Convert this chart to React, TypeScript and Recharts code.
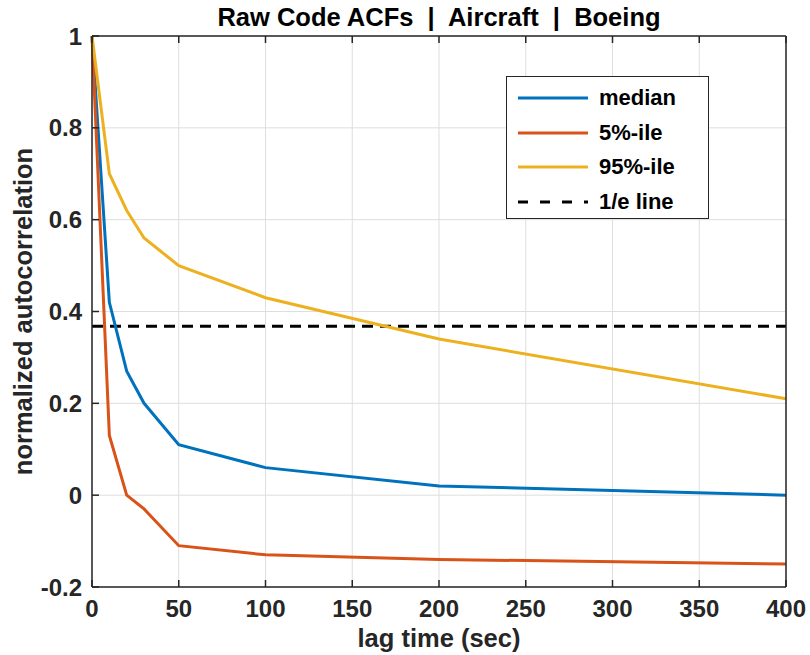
import React from 'react';
import {
  LineChart,
  Line,
  XAxis,
  YAxis,
  CartesianGrid,
  ReferenceLine,
} from 'recharts';

// lag times (sec) at which the ACFs were sampled
const lags = [0, 10, 20, 30, 50, 100, 200, 400];
const median = [1, 0.42, 0.27, 0.2, 0.11, 0.06, 0.02, 0.0];
const pct5 = [1, 0.13, 0.0, -0.03, -0.11, -0.13, -0.14, -0.15];
const pct95 = [1, 0.7, 0.62, 0.56, 0.5, 0.43, 0.34, 0.21];

const xTicks = [0, 50, 100, 150, 200, 250, 300, 350, 400];
const yTicks = [-0.2, 0, 0.2, 0.4, 0.6, 0.8, 1];
const E_FOLD = 1 / Math.E;

const FONT = '"Liberation Sans", Arial, Helvetica, sans-serif';
const AXIS_COLOR = '#262626';
const LABEL_SIZE = 25.5;

const series = [
  { key: 'median', name: 'median', color: '#0072BD' },
  { key: 'pct5', name: '5%-ile', color: '#D95319' },
  { key: 'pct95', name: '95%-ile', color: '#EDB120' },
];

const data = lags.map((lag, i) => ({
  lag,
  median: median[i],
  pct5: pct5[i],
  pct95: pct95[i],
}));

const fmtY = (v: number) => String(Number(v.toFixed(1)));

const tickStyle = { fontSize: 24, fontWeight: 700, fill: AXIS_COLOR, fontFamily: FONT };
const labelStyle = { fontSize: LABEL_SIZE, fontWeight: 700, fill: AXIS_COLOR, fontFamily: FONT };

const legendItems = [
  ...series.map((s) => ({ name: s.name, color: s.color, dash: undefined as string | undefined })),
  { name: '1/e line', color: '#000', dash: '10 12' },
];

// boxed legend in the upper right of the axes
const LegendBox = () => (
  <div
    style={{
      position: 'absolute',
      left: 506,
      top: 76,
      width: 201,
      height: 137,
      border: `1.5px solid ${AXIS_COLOR}`,
      background: '#fff',
      fontFamily: FONT,
      fontWeight: 700,
      fontSize: 22,
      color: '#000',
      paddingTop: 4,
    }}
  >
    {legendItems.map((it) => (
      <div key={it.name} style={{ display: 'flex', alignItems: 'center', height: 34.5 }}>
        <svg width={92} height={10} style={{ flex: 'none' }}>
          <line x1={11} x2={81} y1={5} y2={5} stroke={it.color} strokeWidth={3} strokeDasharray={it.dash} />
        </svg>
        <span style={{ lineHeight: '22px' }}>{it.name}</span>
      </div>
    ))}
  </div>
);

const YLabel = (props: any) => {
  const vb = props.viewBox || {};
  const cy = vb.y + vb.height / 2;
  return (
    <text
      x={32}
      y={cy}
      transform={`rotate(-90 32 ${cy})`}
      textAnchor="middle"
      style={labelStyle}
    >
      normalized autocorrelation
    </text>
  );
};

export default function App() {
  return (
    <div style={{ position: 'fixed', left: 0, top: 0, width: 810, height: 655, background: '#fff' }}>
      <LineChart
        width={810}
        height={655}
        data={data}
        margin={{ top: 35, right: 23, left: 0, bottom: 0 }}
      >
        <CartesianGrid stroke="#dedede" strokeWidth={1} />
        <XAxis
          dataKey="lag"
          type="number"
          domain={[0, 400]}
          ticks={xTicks}
          height={68}
          tickSize={-7}
          tickMargin={20}
          stroke={AXIS_COLOR}
          strokeWidth={1.5}
          tick={tickStyle}
          label={{ value: 'lag time (sec)', position: 'insideBottom', offset: 8, style: labelStyle }}
        />
        <XAxis
          xAxisId="top"
          orientation="top"
          dataKey="lag"
          type="number"
          domain={[0, 400]}
          ticks={xTicks}
          height={1}
          tickSize={-7}
          tickFormatter={() => ''}
          stroke={AXIS_COLOR}
          strokeWidth={1.5}
        />
        <YAxis
          type="number"
          domain={[-0.2, 1]}
          ticks={yTicks}
          width={92}
          tickSize={-7}
          tickMargin={17}
          tickFormatter={fmtY}
          stroke={AXIS_COLOR}
          strokeWidth={1.5}
          tick={tickStyle}
          label={{ content: YLabel }}
        />
        <YAxis
          yAxisId="right"
          orientation="right"
          type="number"
          domain={[-0.2, 1]}
          ticks={yTicks}
          width={1}
          tickSize={-7}
          tickFormatter={() => ''}
          stroke={AXIS_COLOR}
          strokeWidth={1.5}
        />
        <ReferenceLine y={E_FOLD} stroke="#000" strokeWidth={3} strokeDasharray="11 7" />
        {series.map((s) => (
          <Line
            key={s.key}
            type="linear"
            dataKey={s.key}
            name={s.name}
            stroke={s.color}
            strokeWidth={3}
            dot={false}
            isAnimationActive={false}
          />
        ))}
      </LineChart>
      <div
        style={{
          position: 'absolute',
          left: 92,
          width: 694,
          top: 5,
          textAlign: 'center',
          fontFamily: FONT,
          fontWeight: 700,
          fontSize: LABEL_SIZE,
          lineHeight: '25px',
          color: '#000',
          whiteSpace: 'pre',
        }}
      >
        {'Raw Code ACFs  |  Aircraft  |  Boeing'}
      </div>
      <LegendBox />
    </div>
  );
}
